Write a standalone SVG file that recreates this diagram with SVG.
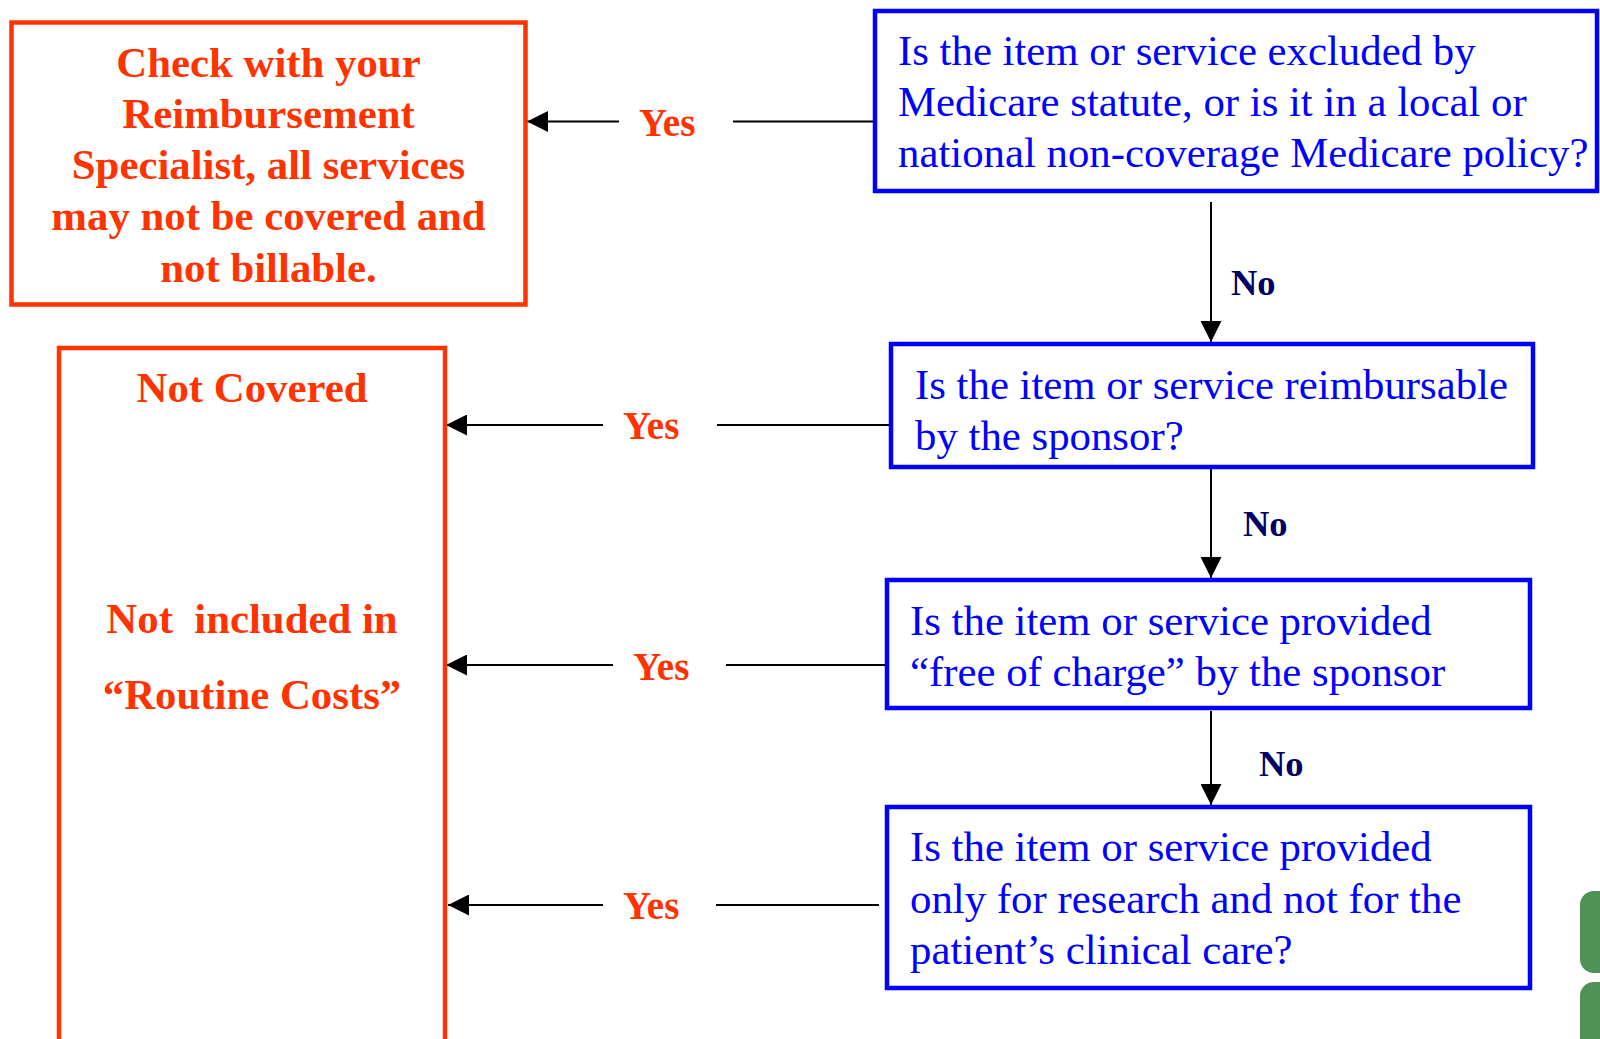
<svg xmlns="http://www.w3.org/2000/svg" width="1600" height="1039" viewBox="0 0 1600 1039">
<style>
.red{fill:#FFFFFF;stroke:#FF3300;stroke-width:4.5}
.blue{fill:#FFFFFF;stroke:#0000FF;stroke-width:4.5}
.rt{font-family:"Liberation Serif","Times New Roman",serif;font-weight:bold;font-size:42.8px;fill:#FF3300;text-anchor:middle}
.bt{font-family:"Liberation Serif","Times New Roman",serif;font-size:42.8px;fill:#0000FF}
.yes{font-family:"Liberation Serif","Times New Roman",serif;font-weight:bold;font-size:39px;fill:#FF3300}
.no{font-family:"Liberation Serif","Times New Roman",serif;font-weight:bold;font-size:36.5px;fill:#000066}
.ln{stroke:#000000;stroke-width:2;fill:none}
.green{fill:#4F9157}
</style>
<defs>
<marker id="ah" markerUnits="userSpaceOnUse" markerWidth="21" markerHeight="21" refX="21" refY="10.5" orient="auto">
<path d="M0,0 L21,10.5 L0,21 z" fill="#000000"/>
</marker>
</defs>
<rect width="1600" height="1039" fill="#FFFFFF"/>

<g id="connectors">
<line class="ln" x1="1211" y1="202" x2="1211" y2="342" marker-end="url(#ah)"/>
<line class="ln" x1="1211" y1="466" x2="1211" y2="578" marker-end="url(#ah)"/>
<line class="ln" x1="1211" y1="711" x2="1211" y2="805" marker-end="url(#ah)"/>
<text class="no" x="1231" y="295">No</text>
<text class="no" x="1243" y="536">No</text>
<text class="no" x="1259" y="776">No</text>

<line class="ln" x1="875" y1="121.5" x2="733" y2="121.5"/>
<line class="ln" x1="619" y1="121.5" x2="527" y2="121.5" marker-end="url(#ah)"/>
<text class="yes" x="639" y="136">Yes</text>

<line class="ln" x1="891" y1="425" x2="717" y2="425"/>
<line class="ln" x1="603" y1="425" x2="446" y2="425" marker-end="url(#ah)"/>
<text class="yes" x="623" y="439">Yes</text>

<line class="ln" x1="893" y1="665" x2="726" y2="665"/>
<line class="ln" x1="613" y1="665" x2="446" y2="665" marker-end="url(#ah)"/>
<text class="yes" x="633" y="680">Yes</text>

<line class="ln" x1="879" y1="905" x2="716" y2="905"/>
<line class="ln" x1="603" y1="905" x2="448" y2="905" marker-end="url(#ah)"/>
<text class="yes" x="623" y="919">Yes</text>
</g>

<g id="check-reimbursement">
<rect class="red" x="11.5" y="22.5" width="514" height="282"/>
<text class="rt" x="268.5" y="77">Check with your</text>
<text class="rt" x="268.5" y="128">Reimbursement</text>
<text class="rt" x="268.5" y="179">Specialist, all services</text>
<text class="rt" x="268.5" y="230">may not be covered and</text>
<text class="rt" x="268.5" y="282">not billable.</text>
</g>

<g id="not-covered">
<rect class="red" x="59" y="348" width="386" height="720"/>
<text class="rt" x="252" y="402">Not Covered</text>
<text class="rt" x="252" y="633" xml:space="preserve">Not  included in</text>
<text class="rt" x="252" y="709">“Routine Costs”</text>
</g>

<g id="q-excluded">
<rect class="blue" x="875" y="11" width="722" height="180"/>
<text class="bt" x="898" y="65">Is the item or service excluded by</text>
<text class="bt" x="898" y="116">Medicare statute, or is it in a local or</text>
<text class="bt" x="898" y="167">national non-coverage Medicare policy?</text>
</g>

<g id="q-reimbursable">
<rect class="blue" x="891" y="344" width="642" height="123"/>
<text class="bt" x="915" y="399">Is the item or service reimbursable</text>
<text class="bt" x="915" y="450">by the sponsor?</text>
</g>

<g id="q-free">
<rect class="blue" x="887" y="580" width="643" height="128"/>
<text class="bt" x="910" y="635">Is the item or service provided</text>
<text class="bt" x="910" y="686">“free of charge” by the sponsor</text>
</g>

<g id="q-research">
<rect class="blue" x="887" y="807" width="643" height="181"/>
<text class="bt" x="910" y="861">Is the item or service provided</text>
<text class="bt" x="910" y="913">only for research and not for the</text>
<text class="bt" x="910" y="964">patient’s clinical care?</text>
</g>

<g id="green-tabs">
<rect class="green" x="1580" y="891" width="40" height="82" rx="14"/>
<rect class="green" x="1580" y="982" width="40" height="80" rx="14"/>
</g>
</svg>
